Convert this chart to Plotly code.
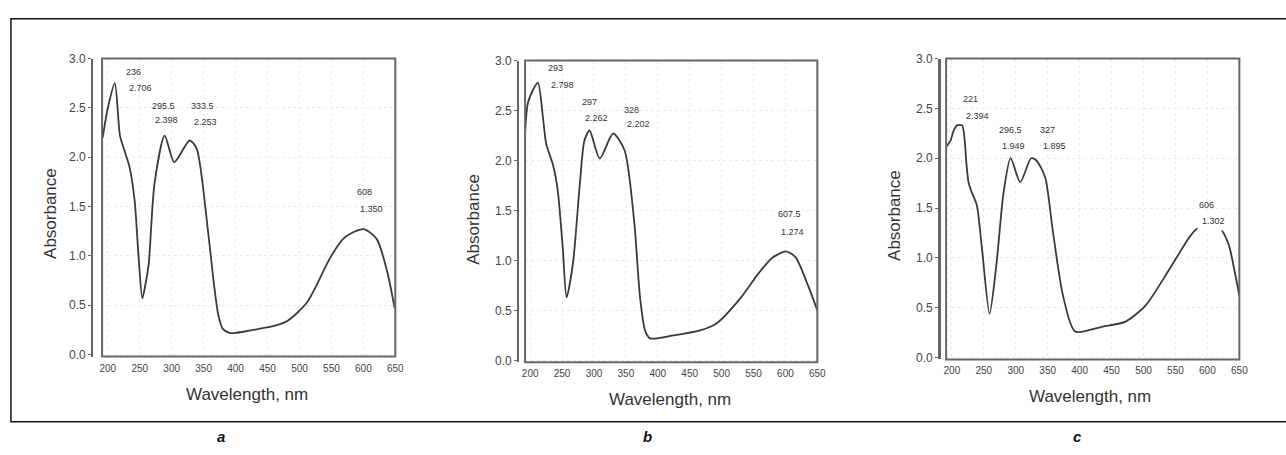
import plotly.graph_objects as go

# ---------------- data ----------------
wl_a = [192, 200, 211, 219, 227, 234, 242, 248, 254, 258, 264, 273, 289, 304, 328, 339, 357, 366,
        373, 380, 390, 400, 419, 460, 481, 512, 548, 568, 584, 602, 621, 637, 649]
abs_a = [2.20, 2.50, 2.75, 2.22, 2.05, 1.90, 1.56, 1.00, 0.57, 0.68, 0.92, 1.73, 2.22, 1.95, 2.17, 2.09,
         1.24, 0.72, 0.40, 0.26, 0.22, 0.22, 0.24, 0.29, 0.34, 0.53, 0.98, 1.17, 1.24, 1.27, 1.17, 0.85, 0.47]

wl_b = [192, 197, 212, 220, 225, 236, 243, 251, 257, 267, 278, 285, 293, 309, 330, 348, 363, 372,
        380, 388, 425, 466, 492, 528, 559, 580, 601, 616, 636, 650]
abs_b = [2.27, 2.59, 2.78, 2.43, 2.17, 1.95, 1.71, 1.13, 0.63, 0.97, 1.78, 2.20, 2.30, 2.02, 2.27, 2.10,
         1.39, 0.64, 0.30, 0.22, 0.25, 0.30, 0.37, 0.61, 0.88, 1.03, 1.09, 1.03, 0.74, 0.50]

wl_c = [192, 198, 203, 208, 216, 223, 226, 231, 239, 247, 259, 270, 281, 292, 307, 324, 332, 346,
        358, 374, 393, 436, 472, 503, 540, 571, 583, 599, 619, 633, 643, 650]
abs_c = [2.12, 2.18, 2.28, 2.33, 2.33, 1.93, 1.76, 1.66, 1.53, 1.10, 0.44, 0.95, 1.66, 2.00, 1.76, 2.00,
         1.98, 1.81, 1.27, 0.62, 0.26, 0.31, 0.36, 0.52, 0.88, 1.20, 1.29, 1.31, 1.30, 1.14, 0.85, 0.62]

# peak labels: wavelength text, absorbance text
peak_nm_a = ["236", "295.5", "333.5", "608"]
peak_val_a = ["2.706", "2.398", "2.253", "1.350"]
peak_nm_b = ["293", "297", "328", "607.5"]
peak_val_b = ["2.798", "2.262", "2.202", "1.274"]
peak_nm_c = ["221", "296.5", "327", "606"]
peak_val_c = ["2.394", "1.949", "1.895", "1.302"]

x_ticks = [200, 250, 300, 350, 400, 450, 500, 550, 600, 650]
y_ticks = [0.0, 0.5, 1.0, 1.5, 2.0, 2.5, 3.0]
panel_letters = ["a", "b", "c"]
x_title = "Wavelength, nm"
y_title = "Absorbance"

# ---------------- layout helpers ----------------
W, H = 1286, 455
def px(x):
    return x / W
def py(y):
    return 1 - y / H

panels = [
    dict(wl=wl_a, ab=abs_a, nm=peak_nm_a, val=peak_val_a,
         box=(100, 396, 53, 359), axis_x=90, xr=[191, 650],
         lab_pos=[(225, 2.86, 2.70), (265.5, 2.52, 2.38), (327.6, 2.52, 2.36), (587, 1.65, 1.48)],
         ytitle=(48, 212), xtitle=(246, 398), letter=(220, 441)),
    dict(wl=wl_b, ab=abs_b, nm=peak_nm_b, val=peak_val_b,
         box=(527, 822, 55, 365), axis_x=520, xr=[192, 650],
         lab_pos=[(225, 2.93, 2.76), (277.6, 2.59, 2.43), (344, 2.51, 2.37), (585, 1.46, 1.28)],
         ytitle=(475, 218), xtitle=(673, 403), letter=(651, 441)),
    dict(wl=wl_c, ab=abs_c, nm=peak_nm_c, val=peak_val_c,
         box=(952, 1248, 53, 362), axis_x=945, xr=[191, 650],
         lab_pos=[(214, 2.59, 2.42), (270, 2.28, 2.12), (335, 2.28, 2.12), (583.5, 1.53, 1.37)],
         ytitle=(900, 214), xtitle=(1097, 400), letter=(1085, 441)),
]

fig = go.Figure()
shapes = []
annotations = []
font_fam = "Liberation Sans, Arial, sans-serif"
ink = "#333333"

for i, p in enumerate(panels):
    n = "" if i == 0 else str(i + 1)
    xa, ya = "x" + n, "y" + n
    fig.add_trace(go.Scatter(x=p["wl"], y=p["ab"], mode="lines", xaxis=xa, yaxis=ya,
                             line=dict(color="#3a3a3a", width=1.8, shape="spline", smoothing=0.7),
                             showlegend=False, hoverinfo="skip"))
    l, r, t, b = p["box"]
    fig.layout["xaxis" + n] = dict(
        domain=[px(l), px(r)], range=p["xr"], anchor=ya,
        tickvals=x_ticks, ticks="", showline=False, zeroline=False,
        showgrid=True, gridcolor="#ebebeb", griddash="dot", gridwidth=1,
        tickfont=dict(family=font_fam, size=10, color="#444"), ticklabelstandoff=4,
    )
    fig.layout["yaxis" + n] = dict(
        domain=[py(b), py(t)], range=[-0.02, 3.0], anchor="free", position=px(p["axis_x"]),
        tickvals=y_ticks, tickformat=".1f", ticks="outside", ticklen=3, tickcolor="#666",
        showline=True, linecolor="#666", linewidth=2 if i < 2 else 3, zeroline=False,
        showgrid=True, gridcolor="#ebebeb", griddash="dot", gridwidth=1,
        tickfont=dict(family=font_fam, size=12, color="#444"),
    )
    shapes.append(dict(type="rect", xref=xa + " domain", yref=ya + " domain", x0=0, x1=1, y0=0, y1=1,
                       line=dict(color="#666", width=2), layer="above"))
    for k in range(4):
        lx, ly1, ly2 = p["lab_pos"][k]
        bg = "white" if (i == 2 and k == 3) else "rgba(0,0,0,0)"
        annotations.append(dict(x=lx, y=ly1, xref=xa, yref=ya, text=p["nm"][k], showarrow=False,
                                xanchor="left", yanchor="middle",
                                font=dict(family=font_fam, size=9, color=ink)))
        annotations.append(dict(x=lx, y=ly2, xref=xa, yref=ya, text=p["val"][k], showarrow=False,
                                xanchor="left", yanchor="middle", bgcolor=bg, borderpad=4,
                                font=dict(family=font_fam, size=9, color=ink)))
    yx, yy = p["ytitle"]
    annotations.append(dict(x=px(yx), y=py(yy), xref="paper", yref="paper", text=y_title,
                            textangle=-90, showarrow=False, xanchor="center", yanchor="middle",
                            font=dict(family=font_fam, size=17, color=ink)))
    tx, ty = p["xtitle"]
    annotations.append(dict(x=px(tx), y=py(ty), xref="paper", yref="paper", text=x_title,
                            showarrow=False, xanchor="center", yanchor="middle",
                            font=dict(family=font_fam, size=17, color=ink)))
    lx, ly = p["letter"]
    annotations.append(dict(x=px(lx), y=py(ly), xref="paper", yref="paper",
                            text="<b><i>" + panel_letters[i] + "</i></b>",
                            showarrow=False, xanchor="center", yanchor="middle",
                            font=dict(family=font_fam, size=15, color="#111")))

# outer frame (right side runs off the page as in the reference)
shapes.append(dict(type="rect", xref="paper", yref="paper", x0=px(8), x1=px(1296), y0=py(426), y1=py(12),
                   line=dict(color="#111", width=1.5), layer="below"))

fig.update_layout(width=W, height=H, autosize=False, margin=dict(l=0, r=0, t=0, b=0),
                  paper_bgcolor="white", plot_bgcolor="white",
                  shapes=shapes, annotations=annotations)

fig.write_html("out.html", config={"displayModeBar": False, "responsive": False},
               post_script="document.body.style.margin='0';document.body.style.padding='0';"
                           "document.documentElement.style.overflow='hidden';")
